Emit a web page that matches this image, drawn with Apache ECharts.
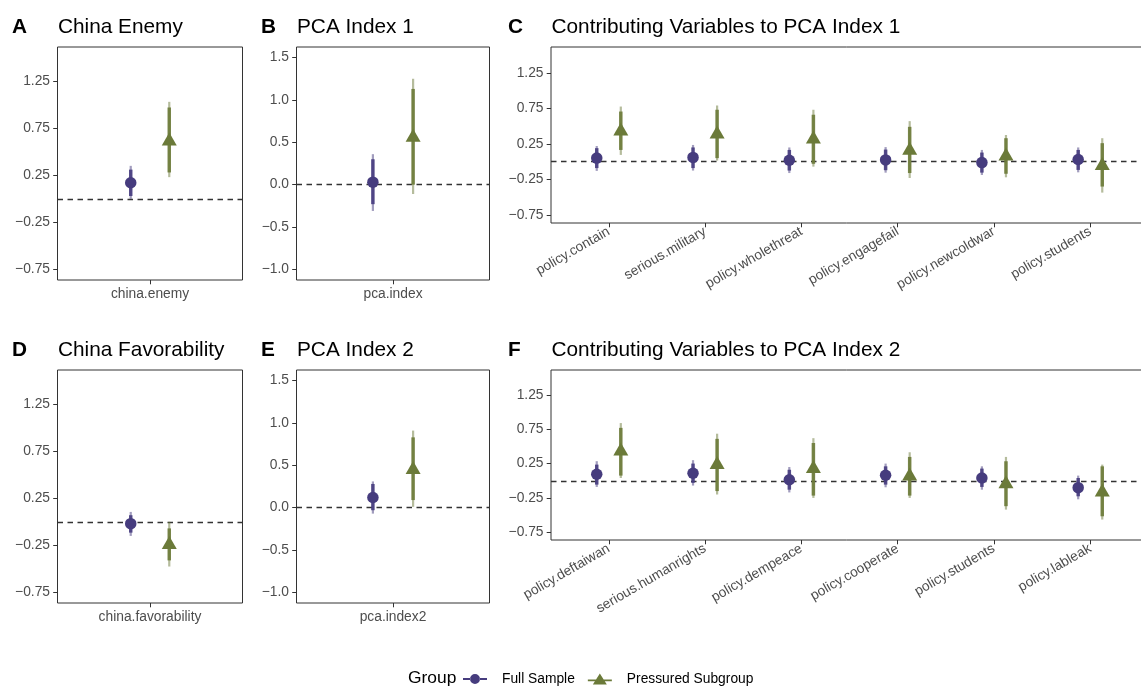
<!DOCTYPE html>
<html>
<head>
<meta charset="utf-8">
<script src="https://cdn.jsdelivr.net/npm/echarts@6/dist/echarts.min.js"></script>
<style>
  html, body { margin: 0; padding: 0; background: #fff; }
  #main { width: 1141px; height: 686px; }
</style>
</head>
<body>
<div id="main"></div>
<script>
// categories for each panel
const catsA = ['china.enemy'];
const catsB = ['pca.index'];
const catsC = ['policy.contain', 'serious.military', 'policy.wholethreat', 'policy.engagefail', 'policy.newcoldwar', 'policy.students'];
const catsD = ['china.favorability'];
const catsE = ['pca.index2'];
const catsF = ['policy.deftaiwan', 'serious.humanrights', 'policy.dempeace', 'policy.cooperate', 'policy.students', 'policy.lableak'];

// each row: [estimate, inner low, inner high, outer low, outer high]
const fullA = [[0.17, 0.03, 0.31, 0.00, 0.35]];
const presA = [[0.615, 0.28, 0.97, 0.23, 1.03]];
const fullB = [[0.03, -0.23, 0.30, -0.31, 0.36]];
const presB = [[0.56, 0.00, 1.13, -0.11, 1.25]];
const fullC = [
    [0.05, -0.09, 0.19, -0.13, 0.22],
    [0.06, -0.09, 0.20, -0.125, 0.235],
    [0.02, -0.125, 0.165, -0.16, 0.20],
    [0.025, -0.12, 0.17, -0.155, 0.205],
    [-0.013, -0.154, 0.128, -0.187, 0.165],
    [0.03, -0.116, 0.165, -0.15, 0.20]
];
const presC = [
    [0.43, 0.165, 0.705, 0.095, 0.775],
    [0.39, 0.05, 0.73, 0.015, 0.79],
    [0.32, -0.03, 0.66, -0.07, 0.73],
    [0.16, -0.16, 0.49, -0.23, 0.57],
    [0.08, -0.17, 0.33, -0.22, 0.375],
    [-0.055, -0.35, 0.26, -0.435, 0.33]
];
const fullD = [[-0.02, -0.115, 0.07, -0.15, 0.105]];
const presD = [[-0.24, -0.41, -0.07, -0.475, 0.0]];
const fullE = [[0.12, -0.03, 0.28, -0.07, 0.31]];
const presE = [[0.45, 0.09, 0.83, 0.01, 0.91]];
const fullF = [
    [0.095, -0.056, 0.235, -0.09, 0.285],
    [0.11, -0.03, 0.25, -0.07, 0.30],
    [0.015, -0.13, 0.16, -0.17, 0.20],
    [0.08, -0.056, 0.21, -0.095, 0.25],
    [0.04, -0.09, 0.177, -0.13, 0.21],
    [-0.10, -0.226, 0.04, -0.27, 0.075]
];
const presF = [
    [0.435, 0.075, 0.77, 0.04, 0.84],
    [0.235, -0.15, 0.61, -0.20, 0.685],
    [0.18, -0.216, 0.55, -0.25, 0.62],
    [0.07, -0.216, 0.347, -0.25, 0.415],
    [-0.045, -0.37, 0.284, -0.42, 0.347],
    [-0.165, -0.517, 0.21, -0.565, 0.235]
];

// y tick labels and limits
const ticksSmall = [-0.75, -0.25, 0.25, 0.75, 1.25];
const limitsSmall = [-0.8625, 1.6125];
const ticksIndex = [-1, -0.5, 0, 0.5, 1, 1.5];
const limitsIndex = [-1.125, 1.625];

const purple = '#463C7E';
const olive = '#6B7A39';
const font = '"Liberation Sans", Arial, Helvetica, sans-serif';
const dodge = 0.125;

const panels = [
    { cats: catsA, full: fullA, pres: presA, ticks: ticksSmall, lim: limitsSmall, dig: 2, box: [57.5, 47, 185, 233], letter: 'A', title: 'China Enemy', rot: 0 },
    { cats: catsB, full: fullB, pres: presB, ticks: ticksIndex, lim: limitsIndex, dig: 1, box: [296.5, 47, 193, 233], letter: 'B', title: 'PCA Index 1', rot: 0 },
    { cats: catsC, full: fullC, pres: presC, ticks: ticksSmall, lim: limitsSmall, dig: 2, box: [551, 47, 597, 176], letter: 'C', title: 'Contributing Variables to PCA Index 1', rot: 30 },
    { cats: catsD, full: fullD, pres: presD, ticks: ticksSmall, lim: limitsSmall, dig: 2, box: [57.5, 370, 185, 233], letter: 'D', title: 'China Favorability', rot: 0 },
    { cats: catsE, full: fullE, pres: presE, ticks: ticksIndex, lim: limitsIndex, dig: 1, box: [296.5, 370, 193, 233], letter: 'E', title: 'PCA Index 2', rot: 0 },
    { cats: catsF, full: fullF, pres: presF, ticks: ticksSmall, lim: limitsSmall, dig: 2, box: [551, 370, 597, 170], letter: 'F', title: 'Contributing Variables to PCA Index 2', rot: 30 }
];

function barRenderer(color, width, opacity) {
    return function (params, api) {
        const a = api.coord([api.value(0), api.value(1)]);
        const b = api.coord([api.value(0), api.value(2)]);
        return {
            type: 'line',
            shape: { x1: a[0], y1: a[1], x2: b[0], y2: b[1] },
            style: { stroke: color, lineWidth: width, opacity: opacity }
        };
    };
}

const grids = [];
const xAxes = [];
const yAxes = [];
const series = [];
const graphics = [];

panels.forEach(function (p, k) {
    grids.push({
        left: p.box[0], top: p.box[1], width: p.box[2], height: p.box[3],
        show: true, borderColor: '#333333', borderWidth: 1, backgroundColor: '#fff',
        containLabel: false, outerBoundsMode: 'none'
    });
    const idx = p.cats.map(function (c, i) { return i; });
    xAxes.push({
        gridIndex: k, type: 'value', position: 'bottom', min: -0.6, max: p.cats.length - 0.4,
        axisLine: { show: false, onZero: false },
        splitLine: { show: false },
        axisTick: { show: true, customValues: idx, length: 4.3, lineStyle: { color: '#333333', width: 1 } },
        axisLabel: {
            show: true, customValues: idx, margin: 7.5, rotate: p.rot,
            color: '#4D4D4D', fontSize: 13.8, fontFamily: font,
            formatter: function (v) { return p.cats[Math.round(v)]; }
        }
    });
    yAxes.push({
        gridIndex: k, type: 'value', position: 'left', min: p.lim[0], max: p.lim[1],
        axisLine: { show: false, onZero: false },
        splitLine: { show: false },
        axisTick: { show: true, customValues: p.ticks, length: 4.3, lineStyle: { color: '#333333', width: 1 } },
        axisLabel: {
            show: true, customValues: p.ticks, margin: 7.5,
            color: '#4D4D4D', fontSize: 13.8, fontFamily: font,
            formatter: function (v) { return v.toFixed(p.dig).replace('-', '\u2212'); }
        }
    });

    const groups = [
        { name: 'Full Sample', rows: p.full, off: -dodge, color: purple, symbol: 'circle', size: 11.5, symOff: [0, 0] },
        { name: 'Pressured Subgroup', rows: p.pres, off: dodge, color: olive, symbol: 'triangle', size: [15, 13], symOff: [0, -2] }
    ];
    groups.forEach(function (g, gi) {
        const outer = g.rows.map(function (r, i) { return [i + g.off, r[3], r[4]]; });
        const inner = g.rows.map(function (r, i) { return [i + g.off, r[1], r[2]]; });
        const pts = g.rows.map(function (r, i) { return [i + g.off, r[0]]; });
        const outerSeries = {
            type: 'custom', name: g.name, xAxisIndex: k, yAxisIndex: k,
            renderItem: barRenderer(g.color, 2.2, 0.5), data: outer,
            encode: { x: 0, y: [1, 2] }, silent: true, z: 3, itemStyle: { color: g.color }
        };
        if (gi === 0) {
            outerSeries.markLine = {
                silent: true, symbol: 'none', animation: false,
                label: { show: false },
                lineStyle: { color: '#333333', type: [5.5, 4.5], width: 1.4 },
                data: [{ yAxis: 0 }],
                z: 2
            };
        }
        series.push(outerSeries);
        series.push({
            type: 'custom', name: g.name, xAxisIndex: k, yAxisIndex: k,
            renderItem: barRenderer(g.color, 3.5, 0.9), data: inner,
            encode: { x: 0, y: [1, 2] }, silent: true, z: 4, itemStyle: { color: g.color }
        });
        series.push({
            type: 'scatter', name: g.name, xAxisIndex: k, yAxisIndex: k,
            symbol: g.symbol, symbolSize: g.size, symbolOffset: g.symOff,
            itemStyle: { color: g.color, opacity: 1 }, data: pts, z: 5, silent: true
        });
    });

    const ty = p.box[1] - 20;
    const lx = p.box[0] < 100 ? 12 : (p.box[0] < 400 ? 261 : 508);
    graphics.push({
        type: 'text', x: lx, y: ty,
        style: { text: p.letter, font: 'bold 20.8px ' + font, fill: '#000', verticalAlign: 'middle', textVerticalAlign: 'middle' }
    });
    graphics.push({
        type: 'text', x: p.box[0] + 0.5, y: ty,
        style: { text: p.title, font: '20.8px ' + font, fill: '#000', verticalAlign: 'middle', textVerticalAlign: 'middle' }
    });
});

graphics.push({
    type: 'text', x: 408, y: 678,
    style: { text: 'Group', font: '17.4px ' + font, fill: '#000', verticalAlign: 'middle', textVerticalAlign: 'middle' }
});

const chart = echarts.init(document.getElementById('main'), null, { renderer: 'canvas' });
chart.setOption({
    animation: false,
    backgroundColor: '#fff',
    grid: grids,
    xAxis: xAxes,
    yAxis: yAxes,
    legend: {
        left: 458, top: 667, padding: 5, itemWidth: 24, itemHeight: 11, itemGap: 13,
        textStyle: { color: '#000', fontSize: 13.8, fontFamily: font, padding: [0, 0, 0, 10] },
        data: [
            { name: 'Full Sample', icon: 'path://M0,4.6 H7.3 V6.4 H0 Z M16.7,4.6 H24 V6.4 H16.7 Z M7,5.5 A5,5 0 1,0 17,5.5 A5,5 0 1,0 7,5.5 Z', itemStyle: { color: purple } },
            { name: 'Pressured Subgroup', icon: 'path://M0,6 H8.5 V7.8 H0 Z M15.5,6 H24 V7.8 H15.5 Z M12,0 L19,11 L5,11 Z', itemStyle: { color: olive } }
        ]
    },
    graphic: graphics,
    series: series
});
window.addEventListener('resize', chart.resize);
</script>
</body>
</html>
